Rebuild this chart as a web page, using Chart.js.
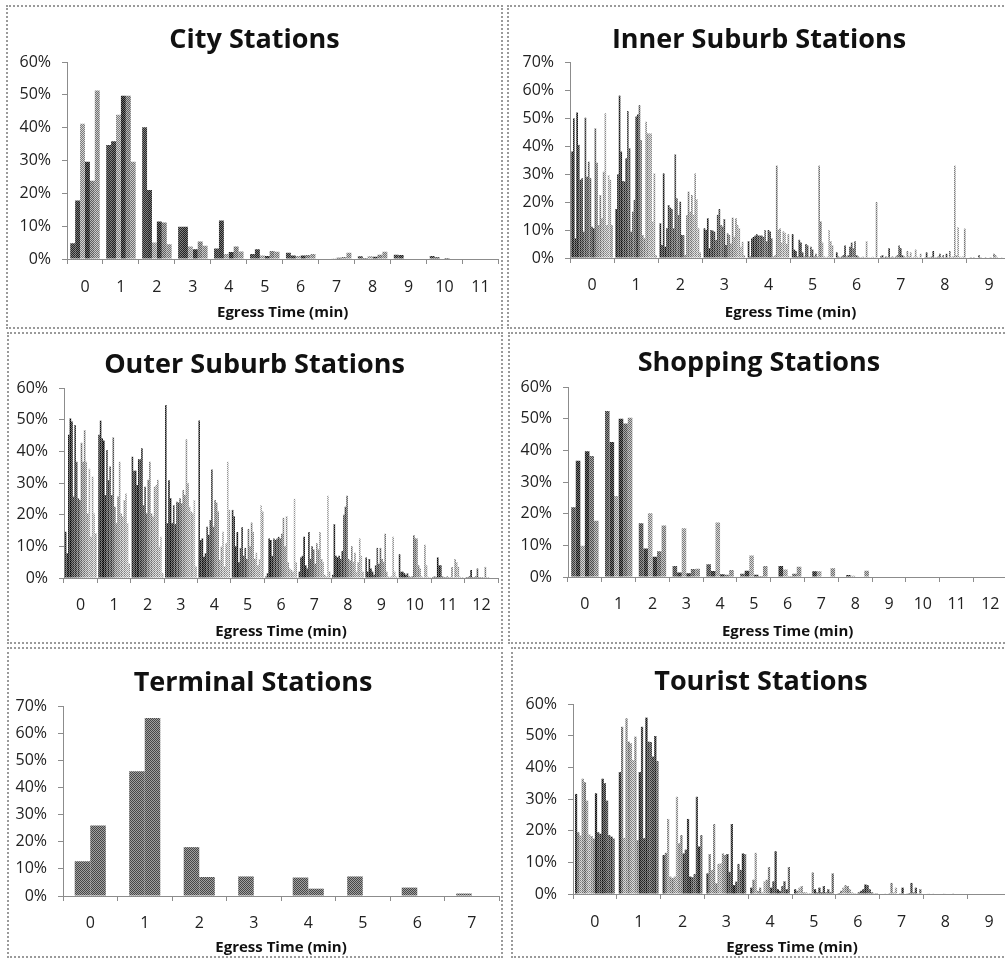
<!DOCTYPE html>
<html>
<head>
<meta charset="utf-8">
<script src="https://cdn.jsdelivr.net/npm/chart.js@4.4.1/dist/chart.umd.min.js"></script>
<style>
  html, body { margin: 0; padding: 0; background: #fff; }
  body { width: 1005px; height: 959px; overflow: hidden; position: relative; }
  canvas { position: absolute; }
  .frame { position: absolute; box-sizing: border-box; border: 2px dotted #9a9a9a; pointer-events: none; z-index: 2; }
</style>
</head>
<body>
<canvas id="city"></canvas>
<canvas id="inner"></canvas>
<canvas id="outer"></canvas>
<canvas id="shopping"></canvas>
<canvas id="terminal"></canvas>
<canvas id="tourist"></canvas>

<div class="frame" style="left:6px;top:5px;width:497px;height:324px"></div>
<div class="frame" style="left:507px;top:5px;width:505px;height:324px"></div>
<div class="frame" style="left:7px;top:332px;width:496px;height:312px"></div>
<div class="frame" style="left:508px;top:332px;width:504px;height:312px"></div>
<div class="frame" style="left:7px;top:647px;width:496px;height:311px"></div>
<div class="frame" style="left:511px;top:647px;width:501px;height:311px"></div>

<script>
// Egress time bins (min) and share of passengers (%) per station.
// Each inner array is one bin: the bars of that cluster, left to right.

const cityMinutes = ['0','1','2','3','4','5','6','7','8','9','10','11'];
const cityBins = [
  [4.8, 17.8, 41.2, 29.6, 23.8, 51.3],
  [34.7, 35.9, 43.9, 49.7, 49.7, 29.6],
  [40.1, 21, 5, 11.4, 11.1, 4.5],
  [9.8, 9.8, 3.8, 3, 5.3, 4],
  [3.2, 11.7, 1.5, 2.1, 3.8, 2.3],
  [1.5, 3, 1.1, 0.9, 2.4, 2.2],
  [1.9, 1.1, 0.9, 1.1, 1.2, 1.5],
  [0, 0, 0.2, 0.4, 0.6, 1.9],
  [0.8, 0.3, 0.8, 0.7, 1.3, 2.2],
  [1.3, 1.2, 0, 0, 0, 0],
  [0.9, 0.5, 0, 0.3, 0, 0],
  [0, 0, 0, 0, 0, 0]
];

const innerMinutes = ['0','1','2','3','4','5','6','7','8','9'];
const innerBins = [
  [38, 49.9, 7, 52, 40.4, 27.9, 28.5, 9.4, 50.1, 29, 34.4, 28.5, 11.2, 10.6, 46.3, 34, 11.8, 22.5, 14.2, 30.8, 51.7, 11.8, 29.6, 27.9, 11.8],
  [17.5, 29.9, 58, 38, 27.5, 27.3, 35.6, 52.5, 39.2, 9.4, 16.5, 20.7, 50.5, 51.3, 54.6, 42.1, 8.2, 7, 48.7, 44.5, 44.5, 44.5, 13, 30.2, 1],
  [12.4, 4.6, 30.2, 4, 10.6, 18.9, 18, 17.5, 10.6, 37, 21.3, 15.4, 20.1, 8.2, 8.2, 1, 15.4, 23.7, 16.5, 22.5, 15.4, 30.2, 21, 10.6, 2],
  [10.6, 10, 14.2, 3.5, 10, 9.8, 9.4, 6.4, 15.4, 17.5, 11.8, 11.2, 13.9, 4.6, 8.8, 8.2, 5.2, 14.4, 7.6, 14.2, 11.8, 10.6, 4, 5.8, 1],
  [6, 0.5, 7, 7.5, 8, 8.5, 8, 8, 8, 7.5, 10, 6, 10, 9.5, 7, 0.5, 1, 33, 10, 10.5, 5.5, 9.5, 9, 5, 8.5],
  [8.5, 3, 2.5, 0.5, 6.5, 5.5, 2, 0.5, 5, 4.5, 0.5, 4, 3, 0.5, 1.5, 0.5, 33, 13, 5.5, 0.5, 0.3, 0.5, 10, 6, 4.5],
  [2, 0.5, 0.3, 0.5, 1, 4.5, 0.5, 1, 4, 5.5, 3.5, 6, 1, 0.5, 0.3, 0.3, 0.5, 0.3, 6, 0.3, 0.3, 0.3, 0.5, 0.3, 20],
  [0.5, 1, 0.3, 0.5, 0.3, 3.5, 0.3, 0.5, 0.3, 0.5, 1, 4.5, 3.5, 1, 0.5, 0.3, 2.5, 0.5, 2, 0.3, 0.5, 3, 0.5, 0.3, 1.5],
  [0.3, 2, 0.3, 0.3, 0.5, 2.5, 0.3, 0.3, 0.5, 1.5, 0.3, 1, 0.3, 1.5, 0.3, 2.5, 0.3, 0.5, 33, 1, 11, 0.5, 0.3, 0.5, 10.5],
  [0, 0.3, 0, 0.3, 0, 0, 1, 0.3, 0, 0, 0.3, 0, 0, 0.3, 0, 1.5, 1, 0.3, 0, 0, 0.3, 0, 0, 0.3, 0]
];

const outerMinutes = ['0','1','2','3','4','5','6','7','8','9','10','11','12'];
const outerBins = [
  [14.6, 7.8, 45.2, 50.4, 49.4, 25.7, 48.3, 36.7, 25.2, 24.6, 42.7, 36.7, 46.7, 36.7, 20.4, 34.5, 13, 32, 20.4, 14.1],
  [45.2, 49.7, 44.1, 43.4, 26.2, 40.4, 30.9, 35.2, 26.2, 44.4, 22.5, 17.3, 25.7, 36.7, 20.4, 19.4, 24.6, 26.7, 17.3, 4.6],
  [38.3, 33.9, 33.9, 29.4, 37.5, 37.5, 41, 23, 28.8, 20.4, 31, 36.7, 20.4, 19.4, 28.8, 29.4, 31, 9.9, 13, 1.5],
  [54.6, 17.3, 30.9, 25.2, 17.3, 23, 17, 24.1, 23.8, 25.2, 23.6, 27.8, 26.2, 43.8, 29.9, 22.5, 21, 20.4, 24.6, 3.6],
  [49.7, 12, 12.5, 6.7, 7.8, 16.2, 13.6, 18.3, 34.3, 16.2, 24.6, 23.8, 21, 5.7, 9.9, 14.6, 3.6, 11, 36.7, 21.5],
  [21.5, 19.5, 10, 14.5, 5, 9.5, 16, 7, 9.5, 6, 15.5, 10, 17.5, 14.5, 6, 8, 4, 6, 23, 21],
  [0.5, 1.5, 12.5, 12, 7, 12.5, 12, 12.5, 13, 12.5, 14, 19, 10, 19.5, 5, 3, 2.5, 2, 25, 5],
  [2, 6.5, 7, 13, 4, 3, 14.5, 6, 10, 9, 4.5, 11, 9, 14.5, 6, 5, 1, 0.5, 26, 2],
  [1, 17, 7, 6.5, 7, 6, 8.5, 20, 22.5, 26, 6, 5.5, 10, 5, 8, 2, 5, 12.5, 7, 2],
  [6.5, 2, 6, 3, 2, 1, 4, 9.5, 4.5, 9.5, 6, 5, 14, 2, 0.5, 0.3, 0.5, 13, 2, 0.5],
  [7.5, 2, 2, 1.5, 1, 1.5, 0.5, 0.3, 0.5, 13.5, 12.5, 12.5, 4, 3, 0.5, 0.3, 10.5, 4, 0.5, 0.3],
  [0.3, 0.5, 0.3, 6.5, 4, 4, 0.5, 0.3, 0.3, 0.5, 0.3, 0.3, 3.5, 0.3, 6, 5, 3.5, 0.5, 0.3, 0.3],
  [0.3, 0.3, 0.5, 2.5, 0.3, 0.3, 0.5, 3, 0.3, 0.3, 0.3, 0.3, 3.5, 0.3, 0.3, 0, 0, 0, 0, 0]
];

const shoppingMinutes = ['0','1','2','3','4','5','6','7','8','9','10','11','12'];
const shoppingBins = [
  [22, 36.7, 9.9, 39.7, 38.2, 17.8],
  [52.4, 42.6, 25.6, 50, 48.5, 50.3],
  [17, 9, 20.1, 6.4, 8.1, 16.3],
  [3.5, 1.4, 15.4, 1.2, 2.5, 2.6],
  [4, 1.9, 17.2, 0.9, 0.7, 2.2],
  [1, 2, 6.8, 0.7, 0.3, 3.5],
  [0, 3.5, 2.4, 0.2, 1, 3.2],
  [0, 1.8, 1.8, 0, 0, 2.8],
  [0, 0.6, 0.4, 0, 0, 2],
  [0, 0, 0, 0, 0, 0],
  [0, 0, 0, 0, 0, 0],
  [0, 0, 0, 0, 0, 0],
  [0, 0, 0, 0, 0, 0]
];

const terminalMinutes = ['0','1','2','3','4','5','6','7'];
const terminalBins = [
  [12.8, 26],
  [46, 65.6],
  [18, 7],
  [7.2, 0],
  [6.8, 2.7],
  [7.2, 0],
  [3.1, 0],
  [0.9, 0]
];

const touristMinutes = ['0','1','2','3','4','5','6','7','8','9'];
const touristBins = [
  [31.6, 19.5, 18.5, 36.4, 35.3, 29.5, 18.8, 18.3, 17.5, 31.8, 19.5, 19, 36.4, 35, 29.5, 18.6, 18.1, 17.5],
  [38.5, 52.8, 17.7, 55.5, 48.1, 47.6, 42.3, 49.7, 17, 38.5, 52.8, 17.6, 55.7, 48.1, 48, 43.4, 49.9, 42],
  [12.3, 13, 23.7, 5.5, 5, 5.5, 30.7, 16, 18.6, 12.8, 14, 23.7, 5.5, 5.3, 6.3, 30.7, 15, 18.6],
  [6.5, 12.6, 7.6, 22.1, 3.4, 9.5, 9.7, 12.8, 12.3, 12.6, 7, 22.1, 2.8, 3.9, 9.5, 7.6, 12.8, 12.6],
  [2, 4.5, 13, 1, 2, 0.5, 4, 4.5, 8.5, 2, 4, 13.5, 1.5, 1, 2.5, 4, 1.5, 8.5],
  [1.5, 1, 2, 2.5, 0.5, 0.5, 0.3, 0.3, 6.8, 1.5, 0.5, 2, 0.5, 2.5, 0.5, 1.5, 0.5, 6.5],
  [0.3, 1, 2, 2.8, 2.5, 1.5, 0.5, 0.3, 0.2, 0.5, 1, 1.5, 3, 2.8, 1.5, 0.5, 0.2, 0.3],
  [0, 0.2, 0, 0.3, 3.5, 0.5, 2, 0, 0.3, 2, 0, 0.2, 0.3, 3.5, 0.5, 2, 0.2, 1.5],
  [0, 0.2, 0, 0.2, 0, 0, 0, 0, 0.2, 0, 0, 0, 0.2, 0, 0, 0, 0, 0],
  [0, 0, 0, 0, 0, 0, 0, 0, 0, 0, 0, 0, 0, 0, 0, 0, 0, 0]
];

// grey level (0-255) of each station series, the print was greyscale
const cityShades = [85, 77, 168, 68, 140, 158];
const shoppingShades = [102, 71, 170, 68, 122, 154];
const terminalShades = [116, 116];
const innerShades = [58, 68, 63, 51, 85, 74, 80, 102, 90, 96, 119, 106, 85, 74, 119, 136, 153, 142, 170, 158,
  181, 170, 184, 171, 160];
const outerShades = [68, 60, 54, 42, 58, 85, 71, 102, 90, 119, 136, 153, 149, 170, 165, 184, 170, 181, 192, 176];
const touristShades = [69, 136, 170, 153, 138, 168, 176, 153, 140, 58, 85, 74, 56, 85, 102, 90, 64, 119];

// Page geometry: canvas box [left, top, width, height] and where the plot area lands [left, top, right, bottom]
const FONT = '"Open Sans", Lato, sans-serif';
const TITLE_SIZE = 27, TICK_SIZE = 16, AXIS_SIZE = 15;
const TICK_LEN = 5, Y_PAD = 11;
const AXIS_COLOR = '#8c8c8c';

const layouts = {
  city:     { box: [6, 5, 497, 324],   plot: [67, 62, 503, 259],   titleY: 40,  tickY: 287, axisY: 313 },
  inner:    { box: [507, 5, 505, 324], plot: [570, 62, 1011, 258], titleY: 40,  tickY: 285, axisY: 313 },
  outer:    { box: [7, 332, 496, 312], plot: [64, 388, 502, 578],  titleY: 365, tickY: 605, axisY: 632 },
  shopping: { box: [508, 332, 504, 312], plot: [568, 387, 1010, 577], titleY: 363, tickY: 604, axisY: 632 },
  terminal: { box: [7, 647, 496, 311], plot: [63, 706, 499, 896],  titleY: 683, tickY: 923, axisY: 948 },
  tourist:  { box: [511, 647, 501, 311], plot: [573, 704, 1011, 894], titleY: 682, tickY: 922, axisY: 948 }
};

// scanned halftone look: 2x2 checker around the grey level
function dither(g) {
  const t = document.createElement('canvas');
  t.width = 2;
  t.height = 2;
  const c = t.getContext('2d');
  const lo = Math.max(0, g - 45), hi = Math.min(255, g + 45);
  c.fillStyle = `rgb(${lo},${lo},${lo})`;
  c.fillRect(0, 0, 2, 2);
  c.fillStyle = `rgb(${hi},${hi},${hi})`;
  c.fillRect(1, 0, 1, 1);
  c.fillRect(0, 1, 1, 1);
  return c.createPattern(t, 'repeat');
}

function makeChart(id, title, labels, bins, shades, yMax, catPct) {
  const lay = layouts[id];
  const [bx, by, bw, bh] = lay.box;
  const [pl, pt, pr, pb] = lay.plot;
  const cv = document.getElementById(id);
  cv.style.left = bx + 'px';
  cv.style.top = by + 'px';
  cv.width = bw;
  cv.height = bh;
  cv.style.width = bw + 'px';
  cv.style.height = bh + 'px';

  const titleLH = TITLE_SIZE * 1.2;
  const tickLH = TICK_SIZE * 1.2;
  const axisLH = AXIS_SIZE * 1.2;

  // one dataset per station, built from the bin arrays
  const datasets = shades.map((g, s) => ({
    data: bins.map(b => b[s]),
    backgroundColor: dither(g),
    borderWidth: 0
  }));

  new Chart(cv, {
    type: 'bar',
    data: { labels: labels, datasets: datasets },
    options: {
      responsive: false,
      animation: false,
      devicePixelRatio: 1,
      layout: { padding: { left: 0, top: 0, right: bx + bw - pr, bottom: 0 } },
      datasets: { bar: { categoryPercentage: catPct, barPercentage: 1 } },
      plugins: {
        legend: { display: false },
        tooltip: { enabled: false },
        title: {
          display: true,
          text: title,
          color: '#111',
          font: { family: FONT, size: TITLE_SIZE, weight: 'bold', lineHeight: 1.2 },
          padding: { top: lay.titleY - by - titleLH / 2, bottom: pt - lay.titleY - titleLH / 2 }
        }
      },
      scales: {
        x: {
          grid: { drawOnChartArea: false, tickLength: TICK_LEN, color: AXIS_COLOR },
          border: { color: AXIS_COLOR, dash: [2, 1] },
          ticks: {
            color: '#222',
            font: { family: FONT, size: TICK_SIZE, lineHeight: 1.2 },
            padding: lay.tickY - pb - TICK_LEN - tickLH / 2,
            maxRotation: 0,
            autoSkip: false
          },
          title: {
            display: true,
            text: 'Egress Time (min)',
            color: '#111',
            font: { family: FONT, size: AXIS_SIZE, weight: 'bold', lineHeight: 1.2 },
            padding: { top: 0, bottom: by + bh - lay.axisY - axisLH / 2 }
          },
          afterFit: s => { s.height = by + bh - pb; }
        },
        y: {
          min: 0,
          max: yMax,
          grid: { drawOnChartArea: false, tickLength: TICK_LEN, color: AXIS_COLOR },
          border: { color: AXIS_COLOR, dash: [2, 1] },
          ticks: {
            stepSize: 10,
            color: '#222',
            font: { family: FONT, size: TICK_SIZE, lineHeight: 1.2 },
            padding: Y_PAD,
            callback: v => v + '%'
          },
          afterFit: s => { s.width = pl - bx; }
        }
      }
    }
  });
}

makeChart('city', 'City Stations', cityMinutes, cityBins, cityShades, 60, 0.82);
makeChart('inner', 'Inner Suburb Stations', innerMinutes, innerBins, innerShades, 70, 0.94);
makeChart('outer', 'Outer Suburb Stations', outerMinutes, outerBins, outerShades, 60, 0.95);
makeChart('shopping', 'Shopping Stations', shoppingMinutes, shoppingBins, shoppingShades, 60, 0.81);
makeChart('terminal', 'Terminal Stations', terminalMinutes, terminalBins, terminalShades, 70, 0.57);
makeChart('tourist', 'Tourist Stations', touristMinutes, touristBins, touristShades, 60, 0.91);
</script>
</body>
</html>
